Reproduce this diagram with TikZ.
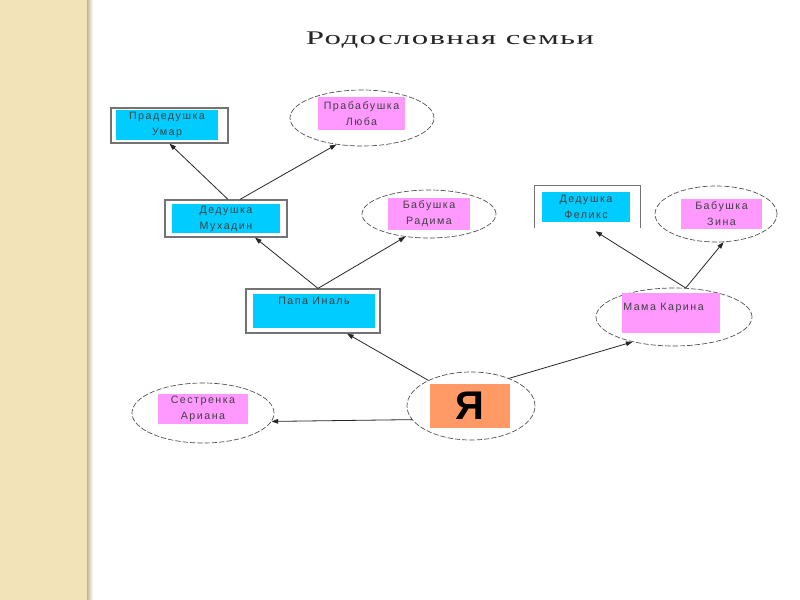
\documentclass[tikz,border=0pt]{standalone}
\usepackage{fontspec}
\setmainfont{Liberation Sans}
\newfontfamily\titlefont[LetterSpace=4]{Liberation Serif}
\newfontfamily\boxfont[LetterSpace=14]{Liberation Sans}
\usetikzlibrary{shapes.geometric,arrows.meta,calc}
\definecolor{beige}{HTML}{F2E3B9}
\definecolor{cyanbox}{HTML}{00CCFF}
\definecolor{pinkbox}{HTML}{FF99FF}
\definecolor{orangebox}{HTML}{FF9966}
\begin{document}
\begin{tikzpicture}[x=0.75pt,y=-0.75pt,
  frame/.style={draw=black!55, line width=0.9pt, inner sep=0pt},
  oval/.style={ellipse, draw=black!70, dash pattern=on 4pt off 1.5pt, line width=0.5pt, inner sep=0pt},
  boxtext/.style={font=\boxfont\fontsize{8}{12}\selectfont, text=black!75, align=center},
  cbox/.style={fill=cyanbox, inner sep=0pt, boxtext},
  pbox/.style={fill=pinkbox, inner sep=0pt, boxtext},
  arr/.style={-{Triangle[length=5pt,width=3.5pt]}, line width=0.6pt, draw=black!85}
]
\useasboundingbox (0,0) rectangle (800,600);
\fill[beige] (0,0) rectangle (88,600);
\shade[left color=beige!80!black, right color=white] (87,0) rectangle (93,600);

% title
\node[text=black!85] (title) at (450,40) {\scalebox{1.7}[1]{\titlefont\fontsize{14.5}{16}\selectfont Родословная семьи}};

% frames and boxes
\node[frame, minimum width=87.75pt, minimum height=26.25pt] (umarF) at (169.5,125.5) {};
\node[cbox, minimum width=76.5pt, minimum height=22.5pt] (umar) at (167,125) {Прадедушка\\Умар};

\node[oval, minimum width=108pt, minimum height=42pt] (luba) at (362,118) {};
\node[pbox, minimum width=65.25pt, minimum height=24.75pt] (lubaB) at (361.5,113.5) {Прабабушка\\Люба};

\node[frame, minimum width=91.5pt, minimum height=27.75pt] (muhF) at (226,218.5) {};
\node[cbox, minimum width=81pt, minimum height=21.75pt] (muh) at (226,218.5) {Дедушка\\Мухадин};

\node[oval, minimum width=100.5pt, minimum height=36pt] (radima) at (429,214) {};
\node[pbox, minimum width=61.5pt, minimum height=24pt] (radimaB) at (429,214) {Бабушка\\Радима};

\node[inner sep=0pt, minimum width=78.75pt, minimum height=31.5pt] (felixF) at (587.5,207) {};
\draw[black!55, line width=0.9pt] (felixF.south west) -- (felixF.north west) -- (felixF.north east) -- (felixF.south east);
\node[cbox, minimum width=66pt, minimum height=22.5pt] (felix) at (586,207) {Дедушка\\Феликс};

\node[oval, minimum width=91.5pt, minimum height=42pt] (zina) at (716,214) {};
\node[pbox, minimum width=60.75pt, minimum height=22.5pt] (zinaB) at (721.5,214) {Бабушка\\Зина};

\node[frame, minimum width=100.5pt, minimum height=33pt] (papaF) at (313,311) {};
\node[fill=cyanbox, inner sep=0pt, minimum width=91.5pt, minimum height=25.5pt] (papa) at (314,311) {};
\node[boxtext, inner sep=0pt] (papaT) at (314,301) {Папа Иналь};

\node[oval, minimum width=117pt, minimum height=43.5pt] (mama) at (674,317) {};
\node[fill=pinkbox, inner sep=0pt, minimum width=73.5pt, minimum height=30pt] (mamaB) at (671,313) {};
\node[boxtext, inner sep=0pt, anchor=west] (mamaT) at (623,308) {Мама Карина};

\node[oval, minimum width=96pt, minimum height=51pt] (ya) at (471,406) {};
\node[fill=orangebox, inner sep=0pt, minimum width=60pt, minimum height=33pt, font=\bfseries\fontsize{30}{30}\selectfont, text=black] (yaB) at (470,406) {\raisebox{-5pt}{Я}};

\node[oval, minimum width=106.5pt, minimum height=45pt] (ariana) at (203,413) {};
\node[pbox, minimum width=67.5pt, minimum height=22.5pt] (arianaB) at (203,409) {Сестренка\\Ариана};

% connectors
\draw[arr] ($(muhF.north)+(2,0)$) -- (umarF.south);
\draw[arr] ($(muhF.north)+(14,0)$) -- (luba.226);
\draw[arr] ($(papaF.north)+(5,0)$) -- ($(muhF.south)+(29,0)$);
\draw[arr] ($(papaF.north)+(5,0)$) -- (radima.224);
\draw[arr] (ya.149) -- ($(papaF.south)+(34,0)$);
\draw[arr] (ya.36) -- (mama.211);
\draw[arr] (ya.193) -- (ariana.353);
\draw[arr] (mama.68) -- ($(felixF.south)+(8,3)$);
\draw[arr] (mama.68) -- (zina.285);
\end{tikzpicture}
\end{document}
